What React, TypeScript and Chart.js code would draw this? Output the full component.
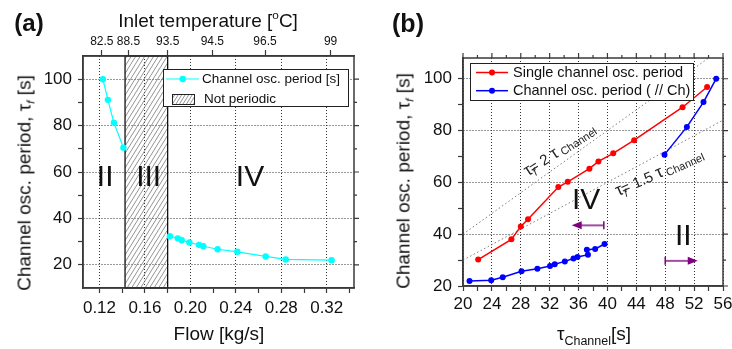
import React, { useEffect, useRef } from 'react';
import { Chart, registerables } from 'chart.js';

Chart.register(...registerables);

const FONT = "'Liberation Sans', Arial, Helvetica, sans-serif";
const AXIS = '#3a3a3a';
const GRID = '#333333';
const CYAN = '#00FFFF';
const RED = '#FF0000';
const BLUE = '#0000FF';
const PURPLE = '#800080';
const PURPLE_LIGHT = '#a24ca2';

// ---------------- Panel (a) data ----------------
const flowRegionII = [0.123, 0.1274, 0.1327, 0.1411];
const periodRegionII = [100, 91.1, 81.2, 70.5];
const flowRegionIV = [0.182, 0.1889, 0.1924, 0.1991, 0.2076, 0.2114, 0.224, 0.2413, 0.2663, 0.2839, 0.3243];
const periodRegionIV = [32.3, 31.4, 30.6, 29.6, 28.6, 28.0, 26.7, 25.6, 23.6, 22.3, 22.0];
const flowMajorTicks = [0.12, 0.16, 0.2, 0.24, 0.28, 0.32];
const flowMinorTicks = [0.14, 0.18, 0.22, 0.26, 0.3, 0.34];
const inletTempTickFlow = [0.1221, 0.1455, 0.18, 0.2193, 0.2657, 0.3234];
const inletTempLabels = ['82.5', '88.5', '93.5', '94.5', '96.5', '99'];
const notPeriodicFlowRange = [0.1425, 0.18];
const periodMajorTicksA = [20, 40, 60, 80, 100];
const periodMinorTicksA = [30, 50, 70, 90];
const regionLabelsA = ['II', 'III', 'IV'];
const regionLabelFlowA = [0.125, 0.1633, 0.2525];
const regionLabelPeriodA = [57.7, 57.7, 57.7];

// ---------------- Panel (b) data ----------------
const tauSingle = [22.1, 26.7, 28.0, 29.0, 33.2, 34.5, 37.5, 38.75, 40.8, 43.7, 50.4, 53.8];
const periodSingle = [30.2, 38.0, 43.0, 45.8, 58.2, 60.2, 65.3, 68.1, 71.2, 76.3, 89.0, 96.8];
const tauParallelLow = [20.9, 23.9, 25.5, 28.1, 30.3, 32.05, 32.7, 34.1, 35.3, 35.85, 37.3, 37.15, 38.3, 39.6];
const periodParallelLow = [21.9, 22.2, 23.4, 25.7, 26.7, 27.7, 28.4, 29.5, 30.6, 31.2, 32.1, 34.0, 34.3, 36.2];
const tauParallelHigh = [47.9, 51.0, 53.3, 55.06];
const periodParallelHigh = [70.7, 81.4, 91.0, 100];
const ratio2LineTau = [20, 54];
const ratio2LinePeriod = [40, 108];
const ratio15LineTau = [20, 56];
const ratio15LinePeriod = [30, 84];
const tauMajorTicks = [20, 24, 28, 32, 36, 40, 44, 48, 52, 56];
const tauMinorTicks = [22, 26, 30, 34, 38, 42, 46, 50, 54];
const periodMajorTicksB = [20, 40, 60, 80, 100];
const periodMinorTicksB = [30, 50, 70, 90];
const regionLabelsB = ['IV', 'II'];
const regionLabelTauB = [37.06, 50.5];
const regionLabelPeriodB = [53.1, 39.2];
const arrowFromTau = [39.5, 48.0];
const arrowToTau = [35.05, 52.5];
const arrowPeriod = [43.4, 29.7];
const ratioLabels = ['2', '1.5'];
const ratioLabelTau = [29.0, 41.5];
const ratioLabelPeriod = [62.3, 54.6];
const ratioLabelAngle = [-33, -24];

const pts = (xs: number[], ys: number[]) => xs.map((x, i) => ({ x, y: ys[i] }));

function makeTicks(major: number[], minor: number[]) {
  const all = [
    ...major.map((v) => ({ value: v, isMajor: true })),
    ...minor.map((v) => ({ value: v, isMajor: false })),
  ];
  all.sort((a, b) => a.value - b.value);
  return all;
}

function axis(o: {
  position: string;
  min: number;
  max: number;
  major: number[];
  minor: number[];
  fmt: (v: number) => string;
  pad: number;
  fit: number;
}) {
  const horizontal = o.position === 'bottom' || o.position === 'top';
  return {
    type: 'linear',
    position: o.position,
    min: o.min,
    max: o.max,
    afterBuildTicks: (s: any) => {
      s.ticks = makeTicks(o.major, o.minor);
    },
    afterFit: (s: any) => {
      if (horizontal) s.height = o.fit;
      else s.width = o.fit;
    },
    ticks: {
      autoSkip: false,
      maxRotation: 0,
      minRotation: 0,
      padding: o.pad,
      color: '#111',
      font: { family: FONT, size: 17 },
      callback: (v: number, i: number, ts: any[]) => (ts[i] && ts[i].isMajor ? o.fmt(v) : ''),
    },
    grid: {
      drawTicks: true,
      tickLength: 5,
      lineWidth: 1,
      tickWidth: 1.2,
      tickColor: AXIS,
      color: (c: any) => (c.tick && c.tick.isMajor ? GRID : 'rgba(0,0,0,0)'),
    },
    border: { display: true, color: AXIS, width: 1.5, dash: [1, 2] },
  };
}

function hatchRect(ctx: CanvasRenderingContext2D, x0: number, y0: number, w: number, h: number, spacing: number) {
  ctx.save();
  ctx.beginPath();
  ctx.rect(x0, y0, w, h);
  ctx.clip();
  ctx.strokeStyle = '#707070';
  ctx.lineWidth = 0.75;
  ctx.beginPath();
  const k = 0.62;
  for (let s = -h; s < w + h; s += spacing) {
    ctx.moveTo(x0 + s, y0 + h);
    ctx.lineTo(x0 + s + h * k, y0);
  }
  ctx.stroke();
  ctx.restore();
}

type Seg = { t: string; size: number; dy?: number; dx?: number; italic?: boolean };
function drawRich(ctx: CanvasRenderingContext2D, segs: Seg[], x: number, y: number, angleDeg: number) {
  ctx.save();
  ctx.translate(x, y);
  ctx.rotate((angleDeg * Math.PI) / 180);
  ctx.textAlign = 'left';
  ctx.textBaseline = 'alphabetic';
  let cx = 0;
  for (const s of segs) {
    ctx.font = `${s.italic ? 'italic ' : ''}${s.size}px ${FONT}`;
    cx += s.dx || 0;
    ctx.fillText(s.t, cx, s.dy || 0);
    cx += ctx.measureText(s.t).width;
  }
  ctx.restore();
}

function framePlugin(right: boolean, top: boolean) {
  return {
    id: 'frame',
    afterDraw(chart: any) {
      const { ctx, chartArea: a } = chart;
      ctx.save();
      ctx.strokeStyle = AXIS;
      ctx.lineWidth = 1.5;
      ctx.strokeRect(a.left, a.top, a.right - a.left, a.bottom - a.top);
      ctx.lineWidth = 1.2;
      ctx.beginPath();
      if (right) {
        const ys = chart.scales.y;
        for (const t of ys.ticks) {
          const p = ys.getPixelForValue(t.value);
          ctx.moveTo(a.right, p);
          ctx.lineTo(a.right + (t.isMajor ? 5 : 3), p);
        }
      }
      if (top) {
        const xs = chart.scales.x;
        for (const t of xs.ticks) {
          const p = xs.getPixelForValue(t.value);
          ctx.moveTo(p, a.top);
          ctx.lineTo(p, a.top - (t.isMajor ? 5 : 3));
        }
      }
      ctx.stroke();
      ctx.restore();
    },
  };
}

function regionLabelPlugin(labels: string[], xs: number[], ys: number[]) {
  return {
    id: 'regionLabels',
    afterDatasetsDraw(chart: any) {
      const { ctx } = chart;
      ctx.save();
      ctx.fillStyle = '#111';
      ctx.font = `30px ${FONT}`;
      ctx.textAlign = 'center';
      ctx.textBaseline = 'middle';
      labels.forEach((l, i) => {
        ctx.fillText(l, chart.scales.x.getPixelForValue(xs[i]), chart.scales.y.getPixelForValue(ys[i]));
      });
      ctx.restore();
    },
  };
}

const hatchPlugin = {
  id: 'notPeriodic',
  beforeDatasetsDraw(chart: any) {
    const { ctx, chartArea: a } = chart;
    const x0 = chart.scales.x.getPixelForValue(notPeriodicFlowRange[0]);
    const x1 = chart.scales.x.getPixelForValue(notPeriodicFlowRange[1]);
    hatchRect(ctx, x0, a.top, x1 - x0, a.bottom - a.top, 4.5);
    ctx.save();
    ctx.strokeStyle = '#111';
    ctx.lineWidth = 1.3;
    ctx.strokeRect(x0, a.top, x1 - x0, a.bottom - a.top);
    ctx.restore();
  },
};

const legendPluginA = {
  id: 'legendA',
  afterDraw(chart: any) {
    const { ctx } = chart;
    ctx.save();
    ctx.fillStyle = '#fff';
    ctx.fillRect(163, 69, 185, 37);
    ctx.strokeStyle = '#222';
    ctx.lineWidth = 1;
    ctx.strokeRect(163.5, 69.5, 185, 37);
    // entry 1
    ctx.strokeStyle = CYAN;
    ctx.lineWidth = 1.2;
    ctx.beginPath();
    ctx.moveTo(166, 79);
    ctx.lineTo(199, 79);
    ctx.stroke();
    ctx.fillStyle = CYAN;
    ctx.beginPath();
    ctx.arc(182.7, 79, 3.2, 0, Math.PI * 2);
    ctx.fill();
    ctx.fillStyle = '#111';
    ctx.font = `13.5px ${FONT}`;
    ctx.textBaseline = 'middle';
    ctx.textAlign = 'left';
    ctx.fillText('Channel osc. period [s]', 202, 79.5);
    // entry 2
    hatchRect(ctx, 172, 94, 22, 10, 3.5);
    ctx.strokeStyle = '#222';
    ctx.lineWidth = 1;
    ctx.strokeRect(172.5, 94.5, 22, 10);
    ctx.fillText('Not periodic', 204, 99.5);
    ctx.restore();
  },
};

const legendPluginB = {
  id: 'legendB',
  afterDraw(chart: any) {
    const { ctx } = chart;
    ctx.save();
    ctx.fillStyle = '#fff';
    ctx.fillRect(100, 63, 223, 37);
    ctx.strokeStyle = '#222';
    ctx.lineWidth = 1;
    ctx.strokeRect(100.5, 63.5, 223, 37);
    const entries = [
      { c: RED, t: 'Single channel osc. period', y: 72.5 },
      { c: BLUE, t: 'Channel osc. period ( // Ch)', y: 90.7 },
    ];
    for (const e of entries) {
      ctx.strokeStyle = e.c;
      ctx.lineWidth = 1.5;
      ctx.beginPath();
      ctx.moveTo(106, e.y);
      ctx.lineTo(138, e.y);
      ctx.stroke();
      ctx.fillStyle = e.c;
      ctx.beginPath();
      ctx.arc(122, e.y, 3, 0, Math.PI * 2);
      ctx.fill();
      ctx.fillStyle = '#111';
      ctx.font = `14.5px ${FONT}`;
      ctx.textBaseline = 'middle';
      ctx.textAlign = 'left';
      ctx.fillText(e.t, 143, e.y + 0.5);
    }
    ctx.restore();
  },
};

const annotationPluginB = {
  id: 'annotB',
  afterDatasetsDraw(chart: any) {
    const { ctx } = chart;
    const xs = chart.scales.x;
    const ys = chart.scales.y;
    ctx.save();
    ctx.fillStyle = '#222';
    ratioLabels.forEach((r, i) => {
      drawRich(
        ctx,
        [
          { t: 'τ', size: 17 },
          { t: 'f', size: 11, dy: 4, italic: true },
          { t: '=', size: 15, dx: -4 },
          { t: ' ' + r + ' ', size: 15 },
          { t: 'τ', size: 17 },
          { t: ' Channel', size: 11, dy: 2 },
        ],
        xs.getPixelForValue(ratioLabelTau[i]),
        ys.getPixelForValue(ratioLabelPeriod[i]),
        ratioLabelAngle[i]
      );
    });
    // arrows
    arrowFromTau.forEach((from, i) => {
      const x0 = xs.getPixelForValue(from);
      const x1 = xs.getPixelForValue(arrowToTau[i]);
      const y = ys.getPixelForValue(arrowPeriod[i]);
      const dir = Math.sign(x1 - x0);
      ctx.strokeStyle = PURPLE_LIGHT;
      ctx.lineWidth = 2;
      ctx.beginPath();
      ctx.moveTo(x0, y);
      ctx.lineTo(x1 - dir * 8, y);
      ctx.stroke();
      ctx.strokeStyle = PURPLE;
      ctx.lineWidth = 1.5;
      ctx.beginPath();
      ctx.moveTo(x0, y - 4);
      ctx.lineTo(x0, y + 4);
      ctx.stroke();
      ctx.fillStyle = PURPLE;
      ctx.beginPath();
      ctx.moveTo(x1, y);
      ctx.lineTo(x1 - dir * 10, y - 4);
      ctx.lineTo(x1 - dir * 10, y + 4);
      ctx.closePath();
      ctx.fill();
    });
    ctx.restore();
  },
};

function configA(): any {
  const cyanData = [...pts(flowRegionII, periodRegionII), { x: 0.16, y: null }, ...pts(flowRegionIV, periodRegionIV)];
  return {
    type: 'scatter',
    data: {
      datasets: [
        {
          label: 'Channel osc. period [s]',
          data: cyanData,
          showLine: true,
          spanGaps: false,
          borderColor: CYAN,
          backgroundColor: CYAN,
          borderWidth: 1.2,
          pointRadius: 3.2,
          pointBorderWidth: 0,
        },
      ],
    },
    options: {
      responsive: false,
      animation: false,
      devicePixelRatio: 1,
      events: [],
      layout: { padding: { left: 0, right: 16, top: 0, bottom: 0 } },
      plugins: { legend: { display: false }, tooltip: { enabled: false } },
      scales: {
        x: axis({
          position: 'bottom',
          min: 0.1055,
          max: 0.344,
          major: flowMajorTicks,
          minor: flowMinorTicks,
          fmt: (v) => v.toFixed(2),
          pad: 5,
          fit: 61,
        }),
        xTop: {
          type: 'linear',
          axis: 'x',
          position: 'top',
          min: 0.1055,
          max: 0.344,
          afterBuildTicks: (s: any) => {
            s.ticks = inletTempTickFlow.map((v) => ({ value: v }));
          },
          afterFit: (s: any) => {
            s.height = 56;
          },
          ticks: {
            autoSkip: false,
            maxRotation: 0,
            minRotation: 0,
            padding: 1,
            color: '#111',
            font: { family: FONT, size: 12 },
            callback: (_v: number, i: number) => inletTempLabels[i],
          },
          grid: { drawOnChartArea: false, drawTicks: true, tickLength: 6, tickWidth: 1.2, tickColor: AXIS },
          border: { display: true, color: AXIS, width: 1.5 },
        },
        y: axis({
          position: 'left',
          min: 10,
          max: 110,
          major: periodMajorTicksA,
          minor: periodMinorTicksA,
          fmt: (v) => String(Math.round(v)),
          pad: 6,
          fit: 83,
        }),
      },
    },
    plugins: [
      hatchPlugin,
      regionLabelPlugin(regionLabelsA, regionLabelFlowA, regionLabelPeriodA),
      framePlugin(true, false),
      legendPluginA,
    ],
  };
}

function configB(): any {
  const parallelData = [
    ...pts(tauParallelLow, periodParallelLow),
    { x: 44, y: null },
    ...pts(tauParallelHigh, periodParallelHigh),
  ];
  return {
    type: 'scatter',
    data: {
      datasets: [
        {
          label: 'Single channel osc. period',
          data: pts(tauSingle, periodSingle),
          showLine: true,
          borderColor: RED,
          backgroundColor: RED,
          borderWidth: 1.5,
          pointRadius: 3,
          pointBorderWidth: 0,
        },
        {
          label: 'Channel osc. period ( // Ch)',
          data: parallelData,
          showLine: true,
          spanGaps: false,
          borderColor: BLUE,
          backgroundColor: BLUE,
          borderWidth: 1.5,
          pointRadius: 3,
          pointBorderWidth: 0,
        },
        {
          label: 'tau_f = 2 tau_Channel',
          data: pts(ratio2LineTau, ratio2LinePeriod),
          showLine: true,
          borderColor: '#7a7a7a',
          borderWidth: 1,
          borderDash: [1.5, 2.5],
          pointRadius: 0,
        },
        {
          label: 'tau_f = 1.5 tau_Channel',
          data: pts(ratio15LineTau, ratio15LinePeriod),
          showLine: true,
          borderColor: '#7a7a7a',
          borderWidth: 1,
          borderDash: [1.5, 2.5],
          pointRadius: 0,
        },
      ],
    },
    options: {
      responsive: false,
      animation: false,
      devicePixelRatio: 1,
      events: [],
      layout: { padding: { left: 0, right: 47, top: 58, bottom: 0 } },
      plugins: { legend: { display: false }, tooltip: { enabled: false } },
      scales: {
        x: axis({
          position: 'bottom',
          min: 20,
          max: 56,
          major: tauMajorTicks,
          minor: tauMinorTicks,
          fmt: (v) => String(Math.round(v)),
          pad: 3,
          fit: 63,
        }),
        y: axis({
          position: 'left',
          min: 20,
          max: 108,
          major: periodMajorTicksB,
          minor: periodMinorTicksB,
          fmt: (v) => String(Math.round(v)),
          pad: 6,
          fit: 93,
        }),
      },
    },
    plugins: [
      regionLabelPlugin(regionLabelsB, regionLabelTauB, regionLabelPeriodB),
      annotationPluginB,
      framePlugin(true, true),
      legendPluginB,
    ],
  };
}

const base: React.CSSProperties = {
  position: 'absolute',
  whiteSpace: 'nowrap',
  fontFamily: FONT,
  color: '#111',
  lineHeight: 1,
  transform: 'translate(-50%, -50%)',
  zIndex: 2,
};
const subStyle: React.CSSProperties = { fontSize: '0.62em', verticalAlign: '-0.35em', lineHeight: 0, fontStyle: 'italic' };
const supStyle: React.CSSProperties = { fontSize: '0.62em', verticalAlign: '0.6em', lineHeight: 0 };

export default function App() {
  const refA = useRef<HTMLCanvasElement>(null);
  const refB = useRef<HTMLCanvasElement>(null);

  useEffect(() => {
    const a = new Chart(refA.current as HTMLCanvasElement, configA());
    const b = new Chart(refB.current as HTMLCanvasElement, configB());
    return () => {
      a.destroy();
      b.destroy();
    };
  }, []);

  const yTitle = (
    <>
      Channel osc. period, τ<sub style={subStyle}>f</sub> [s]
    </>
  );

  return (
    <div
      style={{
        position: 'fixed',
        left: 0,
        top: 0,
        width: 732,
        height: 349,
        overflow: 'hidden',
        background: '#fff',
      }}
    >
      <canvas ref={refA} width={370} height={349} style={{ position: 'absolute', left: 0, top: 0, width: 370, height: 349 }} />
      <canvas ref={refB} width={400} height={349} style={{ position: 'absolute', left: 370, top: 0, width: 400, height: 349 }} />

      <div style={{ ...base, left: 29, top: 23, fontSize: 24, fontWeight: 'bold' }}>(a)</div>
      <div style={{ ...base, left: 208, top: 20, fontSize: 19 }}>
        Inlet temperature [<sup style={supStyle}>o</sup>C]
      </div>
      <div style={{ ...base, left: 219, top: 333, fontSize: 19 }}>Flow [kg/s]</div>
      <div style={{ ...base, left: 24, top: 183, fontSize: 19, transform: 'translate(-50%, -50%) rotate(-90deg)' }}>{yTitle}</div>

      <div style={{ ...base, left: 408, top: 23, fontSize: 25, fontWeight: 'bold' }}>(b)</div>
      <div style={{ ...base, left: 403, top: 181, fontSize: 19, transform: 'translate(-50%, -50%) rotate(-90deg)' }}>{yTitle}</div>
      <div style={{ ...base, left: 594, top: 333, fontSize: 19 }}>
        τ<sub style={{ fontSize: 12.5, verticalAlign: '-0.45em', lineHeight: 0 }}>Channel</sub>[s]
      </div>
    </div>
  );
}
